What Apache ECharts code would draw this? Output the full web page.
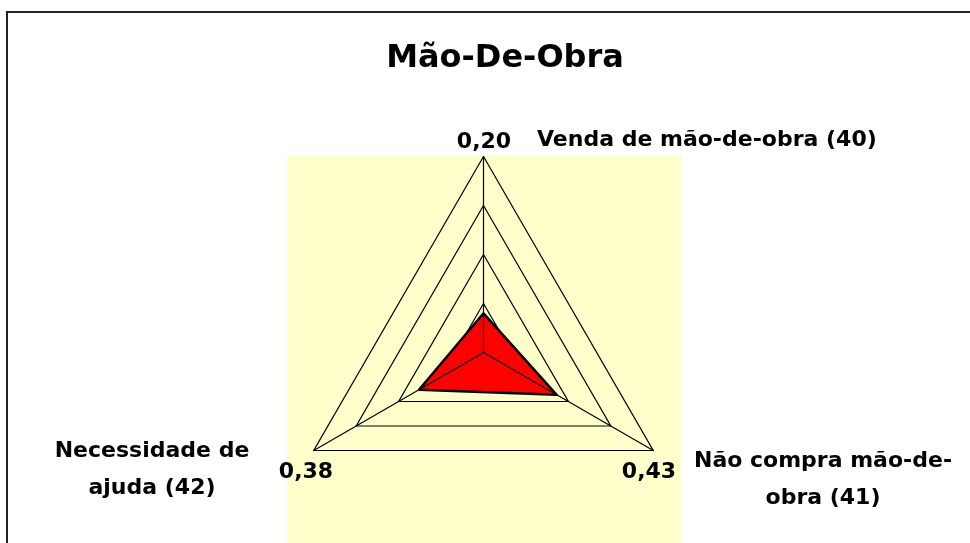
<!DOCTYPE html>
<html>
<head>
<meta charset="utf-8">
<script src="https://cdn.jsdelivr.net/npm/echarts@6/dist/echarts.min.js"></script>
<style>
  html, body { margin: 0; padding: 0; background: #fff; }
  #chart { width: 970px; height: 543px; }
</style>
</head>
<body>
<div id="chart"></div>
<script>
// indicators go counter-clockwise from the top in echarts
const indicatorNames = ['Venda de mão-de-obra (40)', 'Necessidade de\najuda (42)', 'Não compra mão-de-\nobra (41)'];
const values = [0.20, 0.38, 0.43];
const axisMax = 1;

const font = 'DejaVu Sans';
const fmt = v => v.toFixed(2).replace('.', ',');

const center = [483.5, 352.5];
const radius = 196;

const radarBase = {
    center: center,
    radius: radius,
    startAngle: 90,
    shape: 'polygon',
    splitNumber: 4,
    indicator: indicatorNames.map(n => ({name: n, min: 0, max: axisMax})),
    axisName: {show: false},
    splitArea: {show: false}
};

let myChart = echarts.init(document.getElementById('chart'));
myChart.setOption({
    backgroundColor: '#fff',
    animation: false,
    title: {
        text: 'Mão-De-Obra',
        left: 500,
        top: 38,
        textAlign: 'center',
        textStyle: {fontFamily: font, fontWeight: 'bold', fontSize: 32, color: '#000'}
    },
    radar: [
        // rings under the red area, spokes over it (like the original)
        Object.assign({}, radarBase, {
            z: 1,
            axisLine: {show: false},
            splitLine: {lineStyle: {color: '#000', width: 1.2}}
        }),
        Object.assign({}, radarBase, {
            z: 3,
            axisLine: {lineStyle: {color: '#000', width: 1.2}},
            splitLine: {show: false}
        })
    ],
    graphic: [
        {type: 'rect', z: -10, silent: true,
         shape: {x: 287, y: 155, width: 395, height: 400},
         style: {fill: '#FFFFCC'}},
        {type: 'polyline', z: -5, silent: true,
         shape: {points: [[7, 560], [7, 12], [980, 12]]},
         style: {stroke: '#222', lineWidth: 2, fill: null}},
        // value labels
        {type: 'text', x: 484, y: 142, style: {text: fmt(values[0]), align: 'center', verticalAlign: 'middle', font: 'bold 22px ' + font, fill: '#000'}},
        {type: 'text', x: 306, y: 472, style: {text: fmt(values[1]), align: 'center', verticalAlign: 'middle', font: 'bold 22px ' + font, fill: '#000'}},
        {type: 'text', x: 649, y: 472, style: {text: fmt(values[2]), align: 'center', verticalAlign: 'middle', font: 'bold 22px ' + font, fill: '#000'}},
        // indicator names
        {type: 'text', x: 537, y: 140, style: {text: indicatorNames[0], align: 'left', verticalAlign: 'middle', font: 'bold 22px ' + font, fill: '#000'}},
        {type: 'text', x: 152, y: 470, style: {text: indicatorNames[1], align: 'center', verticalAlign: 'middle', lineHeight: 37, font: 'bold 22px ' + font, fill: '#000'}},
        {type: 'text', x: 823, y: 480, style: {text: indicatorNames[2], align: 'center', verticalAlign: 'middle', lineHeight: 37, font: 'bold 22px ' + font, fill: '#000'}}
    ],
    series: [
        {
            name: 'Mão-De-Obra',
            type: 'radar',
            radarIndex: 0,
            z: 2,
            symbol: 'none',
            lineStyle: {width: 0},
            areaStyle: {color: '#FF0000', opacity: 1},
            data: [{value: values}]
        },
        {
            name: 'Mão-De-Obra borda',
            type: 'radar',
            radarIndex: 1,
            z: 4,
            symbol: 'none',
            lineStyle: {color: '#000', width: 2.5},
            data: [{value: values}]
        }
    ]
});
</script>
</body>
</html>
